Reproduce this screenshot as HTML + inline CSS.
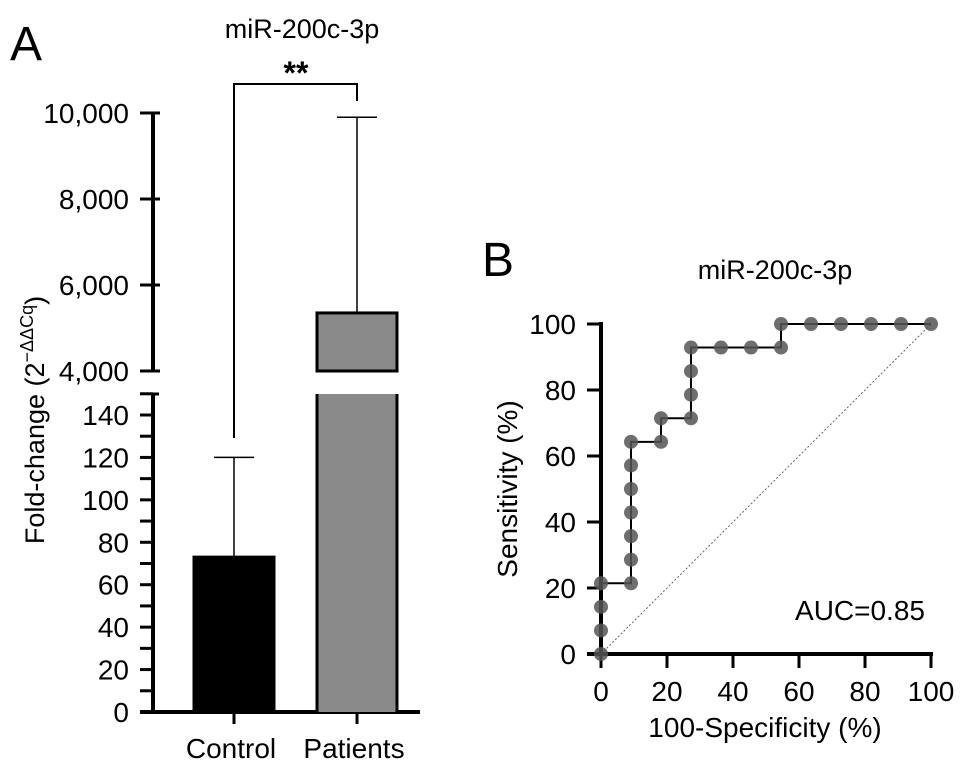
<!DOCTYPE html>
<html><head><meta charset="utf-8"><style>
body{margin:0;background:#fff}
svg text{font-family:"Liberation Sans",Arial,sans-serif;fill:#000}
</style></head><body>
<svg id="c" width="969" height="769" viewBox="0 0 969 769" xmlns="http://www.w3.org/2000/svg">
<text x="10" y="60" font-size="48">A</text>
<text x="482" y="276" font-size="48">B</text>
<text x="302" y="38" font-size="27" text-anchor="middle">miR-200c-3p</text>
<text x="775" y="279" font-size="27" text-anchor="middle">miR-200c-3p</text>
<g id="ga"></g><g id="gb"></g>
</svg>
<script>
const groups=["Control","Patients"];
const means=[73,5350];
const sds=[120,9900];
const lowTicks=[0,20,40,60,80,100,120,140];
const highTicks=[4000,6000,8000,10000];
const rocX=[0,0,0,0,9.09,9.09,9.09,9.09,9.09,9.09,9.09,18.18,18.18,27.27,27.27,27.27,27.27,36.36,45.45,54.55,54.55,63.64,72.73,81.82,90.91,100];
const rocY=[0,7.14,14.29,21.43,21.43,28.57,35.71,42.86,50,57.14,64.29,64.29,71.43,71.43,78.57,85.71,92.86,92.86,92.86,92.86,100,100,100,100,100,100];
const rocTicks=[0,20,40,60,80,100];
const NS="http://www.w3.org/2000/svg";
function mk(p,t,a,txt){const e=document.createElementNS(NS,t);for(const k in a)e.setAttribute(k,a[k]);if(txt!==undefined)e.textContent=txt;p.appendChild(e);return e;}
const ga=document.getElementById('ga'),gb=document.getElementById('gb');
const yLow=v=>712-v*(297/140);
const yHigh=v=>371-(v-4000)*(86/2000);
const yA=v=>v<=150?yLow(v):yHigh(v);
const ax=153;
let e;
e=mk(ga,'line',{x1:ax,y1:394,x2:ax,y2:712,stroke:'#000','stroke-width':4});

e=mk(ga,'line',{x1:ax,y1:114,x2:ax,y2:372,stroke:'#000','stroke-width':4});

mk(ga,'line',{x1:ax-2,y1:394,x2:ax+6,y2:394,stroke:'#000','stroke-width':3});
for(let v=0;v<=150;v+=10){mk(ga,'line',{x1:140,y1:yLow(v),x2:ax,y2:yLow(v),stroke:'#000','stroke-width':3});}
lowTicks.forEach(v=>{e=mk(ga,'text',{x:129,y:yLow(v)+10,'font-size':28,'text-anchor':'end'},String(v));
});
highTicks.forEach(v=>{mk(ga,'line',{x1:140,y1:yHigh(v),x2:ax+7,y2:yHigh(v),stroke:'#000','stroke-width':3});
e=mk(ga,'text',{x:129,y:yHigh(v)+10,'font-size':28,'text-anchor':'end'},v.toLocaleString('en-US'));
});
e=mk(ga,'line',{x1:140,y1:712,x2:420,y2:712,stroke:'#000','stroke-width':4});

const cx=[234,357],bw=80;
groups.forEach((g,i)=>{
 const x=cx[i]-bw/2;
 mk(ga,'line',{x1:cx[i],y1:712,x2:cx[i],y2:724,stroke:'#000','stroke-width':3});
 e=mk(ga,'text',{x:cx[i]-3,y:758,'font-size':28,'text-anchor':'middle'},g);
 
 const top=yA(means[i]);const ey=yA(sds[i]);
 mk(ga,'line',{x1:cx[i],y1:ey,x2:cx[i],y2:top,stroke:'#000','stroke-width':1.5});
 mk(ga,'line',{x1:cx[i]-20,y1:ey,x2:cx[i]+20,y2:ey,stroke:'#000','stroke-width':1.5});
 const fill=i==0?'#000':'#8a8a8a';
 if(means[i]<=150){
  e=mk(ga,'rect',{x:x,y:top,width:bw,height:712-top,fill:fill,stroke:'#000','stroke-width':3});
  
 }else{
  e=mk(ga,'rect',{x:x,y:top,width:bw,height:371-top,fill:fill,stroke:'#000','stroke-width':3});
  
  e=mk(ga,'rect',{x:x,y:394,width:bw,height:318,fill:fill});
  
  mk(ga,'line',{x1:x,y1:394,x2:x,y2:712,stroke:'#000','stroke-width':3});
  mk(ga,'line',{x1:x+bw,y1:394,x2:x+bw,y2:712,stroke:'#000','stroke-width':3});
 }
});
e=mk(ga,'polyline',{points:'234,438 234,84 357,84 357,101',fill:'none',stroke:'#000','stroke-width':2});

e=mk(ga,'text',{x:296,y:84,'font-size':32,'font-weight':'bold','text-anchor':'middle'},'**');

e=mk(ga,'text',{transform:'translate(44,420) rotate(-90)','font-size':27,'text-anchor':'middle'});

e.innerHTML='Fold-change (2<tspan dy="-11" font-size="18">−ΔΔCq</tspan><tspan dy="11">)</tspan>';
const xB=v=>601+v*3.3, yB=v=>654-v*3.3;
e=mk(gb,'line',{x1:xB(0),y1:yB(0),x2:xB(100),y2:yB(100),stroke:'#666','stroke-width':1,'stroke-dasharray':'2,2'});

mk(gb,'line',{x1:601,y1:322,x2:601,y2:656,stroke:'#000','stroke-width':4});
mk(gb,'line',{x1:587,y1:654,x2:933,y2:654,stroke:'#000','stroke-width':4});
rocTicks.forEach(v=>{
 mk(gb,'line',{x1:587,y1:yB(v),x2:601,y2:yB(v),stroke:'#000','stroke-width':3});
 e=mk(gb,'text',{x:576,y:yB(v)+10,'font-size':28,'text-anchor':'end'},String(v));
 
 mk(gb,'line',{x1:xB(v),y1:654,x2:xB(v),y2:668,stroke:'#000','stroke-width':3});
 e=mk(gb,'text',{x:xB(v),y:701,'font-size':28,'text-anchor':'middle'},String(v));
 
});
e=mk(gb,'polyline',{points:rocX.map((x,i)=>xB(x)+','+yB(rocY[i])).join(' '),fill:'none',stroke:'#000','stroke-width':2});

rocX.forEach((x,i)=>{e=mk(gb,'circle',{cx:xB(x),cy:yB(rocY[i]),r:7,fill:'#555','fill-opacity':0.85});
});
e=mk(gb,'text',{x:860,y:620,'font-size':28,'text-anchor':'middle'},'AUC=0.85');

e=mk(gb,'text',{x:765,y:737,'font-size':28,'text-anchor':'middle'},'100-Specificity (%)');

e=mk(gb,'text',{transform:'translate(517,489) rotate(-90)','font-size':28,'text-anchor':'middle'},'Sensitivity (%)');

</script>
</body></html>
